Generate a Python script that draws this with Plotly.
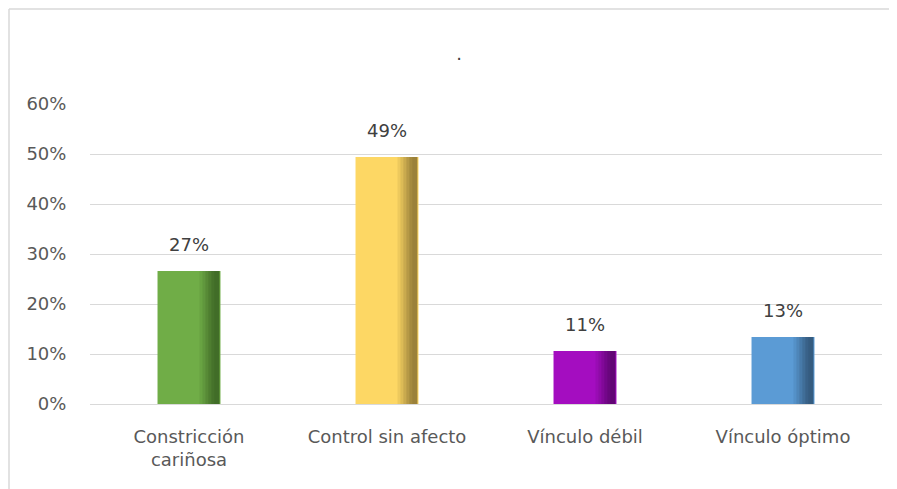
import plotly.graph_objects as go

categories = ["Constricción<br>cariñosa", "Control sin afecto", "Vínculo débil", "Vínculo óptimo"]
values = [0.266, 0.494, 0.106, 0.134]
labels = ["27%", "49%", "11%", "13%"]
colors = ["#70AD47", "#FDD764", "#A40DC0", "#5B9BD5"]
dark_colors = ["#355A20", "#7F6930", "#4E0560", "#2C4A68"]

FONT = "DejaVu Sans, sans-serif"
bw = 0.318
OFF = 8  # page body offset

fig = go.Figure()
fig.add_trace(go.Bar(
    x=categories, y=values, width=bw, offset=-bw / 2,
    marker=dict(color=colors, line=dict(width=0)),
    hoverinfo="skip", showlegend=False,
))
# right-edge shading strips to mimic the gradient
for w, op in [(0.10, 0.12), (0.085, 0.15), (0.07, 0.2), (0.055, 0.25), (0.04, 0.3), (0.025, 0.25)]:
    fig.add_trace(go.Bar(
        x=categories, y=values, width=w, offset=bw / 2 - w - 0.006,
        marker=dict(color=dark_colors, opacity=op, line=dict(width=0)),
        hoverinfo="skip", showlegend=False,
    ))

annotations = [
    dict(x=c, y=v, text=t, showarrow=False, yanchor="bottom", yshift=14,
         font=dict(family=FONT, size=18, color="#404040"))
    for c, v, t in zip(categories, values, labels)
]

bx0 = (9 - 90) / 792
by1 = (404 - 9) / 300
fig.update_layout(
    width=897, height=489,
    margin=dict(l=90 - OFF, r=15 + OFF, t=104 - OFF, b=85 + OFF),
    paper_bgcolor="white", plot_bgcolor="white",
    barmode="overlay",
    title=dict(text=".", x=(459 - 90) / 792, xref="paper", xanchor="center",
               y=1 - (54 - OFF) / 489, yanchor="middle",
               font=dict(family=FONT, size=18, color="#404040")),
    xaxis=dict(showgrid=False, showline=False, ticks="outside", ticklen=16,
               tickcolor="white",
               tickfont=dict(family=FONT, size=18, color="#595959")),
    yaxis=dict(range=[0, 0.6], dtick=0.1, tickformat=".0%",
               gridcolor="#D9D9D9", gridwidth=1, zeroline=True,
               zerolinecolor="#D9D9D9", zerolinewidth=1,
               ticks="outside", ticklen=19, tickcolor="white",
               tickfont=dict(family=FONT, size=18, color="#595959")),
    annotations=annotations,
    shapes=[
        dict(type="line", xref="paper", yref="paper", x0=bx0, x1=bx0, y0=-0.5, y1=by1,
             line=dict(color="#D9D9D9", width=1.5), layer="below"),
        dict(type="line", xref="paper", yref="paper", x0=bx0, x1=1.2, y0=by1, y1=by1,
             line=dict(color="#D9D9D9", width=1.5), layer="below"),
    ],
)

fig.write_html("out.html")
